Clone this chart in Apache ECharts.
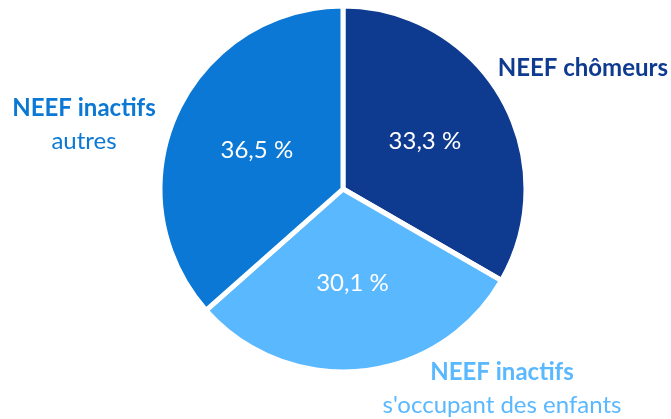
<!DOCTYPE html>
<html>
<head>
<meta charset="utf-8">
<script src="https://cdn.jsdelivr.net/npm/echarts@6/dist/echarts.min.js"></script>
<style>
  html, body { margin: 0; padding: 0; background: #fff; }
  #chart { width: 671px; height: 419px; }
</style>
</head>
<body>
<div id="chart"></div>
<script>
// Répartition des NEEF (en %)
const titles = ['NEEF chômeurs', 'NEEF inactifs', 'NEEF inactifs'];
const subtitles = ['', "s'occupant des enfants", 'autres'];
const values = [33.3, 30.1, 36.5];
const colors = ['#0E3A8F', '#5AB8FF', '#0A78D4'];

const fmt = v => v.toFixed(1).replace('.', ',') + ' %';
const FONT = 'Lato';

const data = values.map((v, i) => ({
  value: v,
  name: titles[i] + (subtitles[i] ? ' ' + subtitles[i] : ''),
  itemStyle: { color: colors[i] }
}));

// Positions of the category captions around the pie
const captionPos = [
  { x: 668, y: 68, align: 'right' },
  { x: 502, y: 389, align: 'center' },
  { x: 84, y: 125, align: 'center' }
];

const chart = echarts.init(document.getElementById('chart'), null, { renderer: 'canvas' });
chart.setOption({
  animation: false,
  series: [
    {
      type: 'pie',
      center: [343, 189],
      radius: [0, 183],
      startAngle: 90,
      clockwise: true,
      data: data,
      itemStyle: { borderColor: '#fff', borderWidth: 5 },
      label: {
        show: true,
        position: 'inside',
        color: '#fff',
        fontFamily: FONT,
        fontSize: 24,
        formatter: p => fmt(p.value)
      },
      labelLine: { show: false },
      emphasis: { disabled: true }
    },
    {
      type: 'pie',
      center: [343, 189],
      radius: [0, 183],
      startAngle: 90,
      clockwise: true,
      silent: true,
      data: values.map((v, i) => ({ value: v, name: titles[i], itemStyle: { color: 'rgba(0,0,0,0)' } })),
      label: {
        show: true,
        position: 'outside',
        overflow: 'none',
        fontFamily: FONT,
        formatter: p => {
          const i = p.dataIndex;
          return subtitles[i]
            ? '{t' + i + '|' + titles[i] + '}\n{s' + i + '|' + subtitles[i] + '}'
            : '{t' + i + '|' + titles[i] + '}';
        },
        rich: Object.assign({}, ...colors.map((c, i) => ({
          ['t' + i]: { color: c, fontWeight: 'bold', fontSize: 24, fontFamily: FONT, lineHeight: 33, align: captionPos[i].align },
          ['s' + i]: { color: c, fontSize: 24, fontFamily: FONT, lineHeight: 33, align: captionPos[i].align }
        })))
      },
      labelLine: { show: false },
      labelLayout: p => ({
        x: captionPos[p.dataIndex].x,
        y: captionPos[p.dataIndex].y,
        align: captionPos[p.dataIndex].align,
        verticalAlign: 'middle'
      }),
      emphasis: { disabled: true }
    }
  ]
});
</script>
</body>
</html>
